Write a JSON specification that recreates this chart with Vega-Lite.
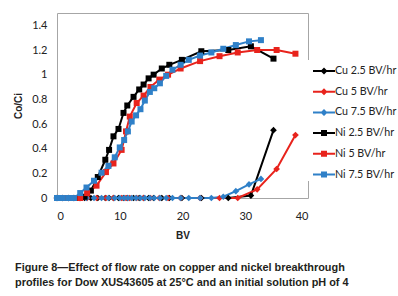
{
  "$schema": "https://vega.github.io/schema/vega-lite/v6.json",
  "width": 251,
  "height": 185,
  "autosize": {"type": "none"},
  "padding": {"left": 57, "top": 13, "right": 90, "bottom": 98},
  "background": "white",
  "title": {
    "text": ["Figure 8\u2014Effect of flow rate on copper and nickel breakthrough", "profiles for Dow XUS43605 at 25\u00b0C and an initial solution pH of 4"],
    "orient": "bottom", "anchor": "start", "frame": "group", "dx": -42, "offset": 22,
    "font": "Liberation Sans", "fontSize": 10.9, "fontWeight": "bold", "color": "#231f20",
    "lineHeight": 15, "baseline": "top"
  },
  "config": {
    "view": {"stroke": "#a6a6a6", "strokeWidth": 1},
    "axis": {"domain": false, "grid": false, "ticks": false, "labelFont": "Lato", "labelFontSize": 11, "labelColor": "#222222", "titleFont": "Liberation Sans", "titleFontSize": 10, "titleFontWeight": "bold", "titleColor": "#222222"}
  },
  "datasets": {
    "pts": [
      {"s": "Cu 2.5 BV/hr", "bv": 0, "v": 0}, {"s": "Cu 2.5 BV/hr", "bv": 0.9, "v": 0}, {"s": "Cu 2.5 BV/hr", "bv": 1.8, "v": 0}, {"s": "Cu 2.5 BV/hr", "bv": 2.7, "v": 0}, {"s": "Cu 2.5 BV/hr", "bv": 3.6, "v": 0}, {"s": "Cu 2.5 BV/hr", "bv": 4.4, "v": 0}, {"s": "Cu 2.5 BV/hr", "bv": 5.4, "v": 0}, {"s": "Cu 2.5 BV/hr", "bv": 6.5, "v": 0}, {"s": "Cu 2.5 BV/hr", "bv": 7.7, "v": 0}, {"s": "Cu 2.5 BV/hr", "bv": 8.3, "v": 0}, {"s": "Cu 2.5 BV/hr", "bv": 9.0, "v": 0}, {"s": "Cu 2.5 BV/hr", "bv": 9.8, "v": 0}, {"s": "Cu 2.5 BV/hr", "bv": 10.6, "v": 0}, {"s": "Cu 2.5 BV/hr", "bv": 11.2, "v": 0}, {"s": "Cu 2.5 BV/hr", "bv": 12.2, "v": 0}, {"s": "Cu 2.5 BV/hr", "bv": 13.1, "v": 0}, {"s": "Cu 2.5 BV/hr", "bv": 13.8, "v": 0}, {"s": "Cu 2.5 BV/hr", "bv": 14.6, "v": 0}, {"s": "Cu 2.5 BV/hr", "bv": 15.4, "v": 0}, {"s": "Cu 2.5 BV/hr", "bv": 16.7, "v": 0}, {"s": "Cu 2.5 BV/hr", "bv": 17.9, "v": 0}, {"s": "Cu 2.5 BV/hr", "bv": 19.9, "v": 0}, {"s": "Cu 2.5 BV/hr", "bv": 23.0, "v": 0}, {"s": "Cu 2.5 BV/hr", "bv": 27.3, "v": 0}, {"s": "Cu 2.5 BV/hr", "bv": 30.9, "v": 0.02}, {"s": "Cu 2.5 BV/hr", "bv": 34.5, "v": 0.55},
      {"s": "Cu 5 BV/hr", "bv": 0, "v": 0}, {"s": "Cu 5 BV/hr", "bv": 0.9, "v": 0}, {"s": "Cu 5 BV/hr", "bv": 1.8, "v": 0}, {"s": "Cu 5 BV/hr", "bv": 2.7, "v": 0}, {"s": "Cu 5 BV/hr", "bv": 3.7, "v": 0}, {"s": "Cu 5 BV/hr", "bv": 4.8, "v": 0}, {"s": "Cu 5 BV/hr", "bv": 6.3, "v": 0}, {"s": "Cu 5 BV/hr", "bv": 7.8, "v": 0}, {"s": "Cu 5 BV/hr", "bv": 9.0, "v": 0}, {"s": "Cu 5 BV/hr", "bv": 10.3, "v": 0}, {"s": "Cu 5 BV/hr", "bv": 11.0, "v": 0}, {"s": "Cu 5 BV/hr", "bv": 11.6, "v": 0}, {"s": "Cu 5 BV/hr", "bv": 12.7, "v": 0}, {"s": "Cu 5 BV/hr", "bv": 13.8, "v": 0}, {"s": "Cu 5 BV/hr", "bv": 14.9, "v": 0}, {"s": "Cu 5 BV/hr", "bv": 16.3, "v": 0}, {"s": "Cu 5 BV/hr", "bv": 17.7, "v": 0}, {"s": "Cu 5 BV/hr", "bv": 19.7, "v": 0}, {"s": "Cu 5 BV/hr", "bv": 22.8, "v": 0}, {"s": "Cu 5 BV/hr", "bv": 25.9, "v": 0}, {"s": "Cu 5 BV/hr", "bv": 28.8, "v": 0}, {"s": "Cu 5 BV/hr", "bv": 31.9, "v": 0.07}, {"s": "Cu 5 BV/hr", "bv": 35.0, "v": 0.235}, {"s": "Cu 5 BV/hr", "bv": 38.0, "v": 0.51},
      {"s": "Cu 7.5 BV/hr", "bv": 0, "v": 0}, {"s": "Cu 7.5 BV/hr", "bv": 0.9, "v": 0}, {"s": "Cu 7.5 BV/hr", "bv": 1.8, "v": 0}, {"s": "Cu 7.5 BV/hr", "bv": 2.7, "v": 0}, {"s": "Cu 7.5 BV/hr", "bv": 3.7, "v": 0}, {"s": "Cu 7.5 BV/hr", "bv": 4.7, "v": 0}, {"s": "Cu 7.5 BV/hr", "bv": 5.9, "v": 0}, {"s": "Cu 7.5 BV/hr", "bv": 7.1, "v": 0}, {"s": "Cu 7.5 BV/hr", "bv": 8.2, "v": 0}, {"s": "Cu 7.5 BV/hr", "bv": 9.2, "v": 0}, {"s": "Cu 7.5 BV/hr", "bv": 10.0, "v": 0}, {"s": "Cu 7.5 BV/hr", "bv": 10.7, "v": 0}, {"s": "Cu 7.5 BV/hr", "bv": 11.3, "v": 0}, {"s": "Cu 7.5 BV/hr", "bv": 11.9, "v": 0}, {"s": "Cu 7.5 BV/hr", "bv": 12.6, "v": 0}, {"s": "Cu 7.5 BV/hr", "bv": 13.3, "v": 0}, {"s": "Cu 7.5 BV/hr", "bv": 14.0, "v": 0}, {"s": "Cu 7.5 BV/hr", "bv": 14.8, "v": 0}, {"s": "Cu 7.5 BV/hr", "bv": 15.5, "v": 0}, {"s": "Cu 7.5 BV/hr", "bv": 16.4, "v": 0}, {"s": "Cu 7.5 BV/hr", "bv": 17.4, "v": 0}, {"s": "Cu 7.5 BV/hr", "bv": 18.4, "v": 0}, {"s": "Cu 7.5 BV/hr", "bv": 19.7, "v": 0}, {"s": "Cu 7.5 BV/hr", "bv": 21.0, "v": 0}, {"s": "Cu 7.5 BV/hr", "bv": 22.8, "v": 0}, {"s": "Cu 7.5 BV/hr", "bv": 24.6, "v": 0}, {"s": "Cu 7.5 BV/hr", "bv": 26.5, "v": 0.01}, {"s": "Cu 7.5 BV/hr", "bv": 28.5, "v": 0.055}, {"s": "Cu 7.5 BV/hr", "bv": 30.6, "v": 0.11}, {"s": "Cu 7.5 BV/hr", "bv": 32.5, "v": 0.155},
      {"s": "Ni 2.5 BV/hr", "bv": 0, "v": 0}, {"s": "Ni 2.5 BV/hr", "bv": 0.9, "v": 0}, {"s": "Ni 2.5 BV/hr", "bv": 1.8, "v": 0}, {"s": "Ni 2.5 BV/hr", "bv": 2.7, "v": 0}, {"s": "Ni 2.5 BV/hr", "bv": 3.6, "v": 0}, {"s": "Ni 2.5 BV/hr", "bv": 4.4, "v": 0.01}, {"s": "Ni 2.5 BV/hr", "bv": 5.4, "v": 0.06}, {"s": "Ni 2.5 BV/hr", "bv": 6.5, "v": 0.17}, {"s": "Ni 2.5 BV/hr", "bv": 7.7, "v": 0.31}, {"s": "Ni 2.5 BV/hr", "bv": 8.3, "v": 0.39}, {"s": "Ni 2.5 BV/hr", "bv": 9.0, "v": 0.5}, {"s": "Ni 2.5 BV/hr", "bv": 9.8, "v": 0.56}, {"s": "Ni 2.5 BV/hr", "bv": 10.6, "v": 0.69}, {"s": "Ni 2.5 BV/hr", "bv": 11.2, "v": 0.75}, {"s": "Ni 2.5 BV/hr", "bv": 12.2, "v": 0.82}, {"s": "Ni 2.5 BV/hr", "bv": 13.1, "v": 0.88}, {"s": "Ni 2.5 BV/hr", "bv": 13.8, "v": 0.92}, {"s": "Ni 2.5 BV/hr", "bv": 14.6, "v": 0.97}, {"s": "Ni 2.5 BV/hr", "bv": 15.4, "v": 1.0}, {"s": "Ni 2.5 BV/hr", "bv": 16.7, "v": 1.05}, {"s": "Ni 2.5 BV/hr", "bv": 17.9, "v": 1.08}, {"s": "Ni 2.5 BV/hr", "bv": 19.9, "v": 1.12}, {"s": "Ni 2.5 BV/hr", "bv": 23.0, "v": 1.19}, {"s": "Ni 2.5 BV/hr", "bv": 27.3, "v": 1.2}, {"s": "Ni 2.5 BV/hr", "bv": 30.9, "v": 1.23}, {"s": "Ni 2.5 BV/hr", "bv": 34.5, "v": 1.13},
      {"s": "Ni 5 BV/hr", "bv": 0, "v": 0}, {"s": "Ni 5 BV/hr", "bv": 0.9, "v": 0}, {"s": "Ni 5 BV/hr", "bv": 1.8, "v": 0}, {"s": "Ni 5 BV/hr", "bv": 2.7, "v": 0}, {"s": "Ni 5 BV/hr", "bv": 3.7, "v": 0}, {"s": "Ni 5 BV/hr", "bv": 4.8, "v": 0.04}, {"s": "Ni 5 BV/hr", "bv": 6.3, "v": 0.1}, {"s": "Ni 5 BV/hr", "bv": 7.8, "v": 0.21}, {"s": "Ni 5 BV/hr", "bv": 9.0, "v": 0.28}, {"s": "Ni 5 BV/hr", "bv": 10.3, "v": 0.39}, {"s": "Ni 5 BV/hr", "bv": 11.0, "v": 0.54}, {"s": "Ni 5 BV/hr", "bv": 11.6, "v": 0.66}, {"s": "Ni 5 BV/hr", "bv": 12.7, "v": 0.77}, {"s": "Ni 5 BV/hr", "bv": 13.8, "v": 0.83}, {"s": "Ni 5 BV/hr", "bv": 14.9, "v": 0.9}, {"s": "Ni 5 BV/hr", "bv": 16.3, "v": 0.96}, {"s": "Ni 5 BV/hr", "bv": 17.7, "v": 1.0}, {"s": "Ni 5 BV/hr", "bv": 19.7, "v": 1.05}, {"s": "Ni 5 BV/hr", "bv": 22.8, "v": 1.11}, {"s": "Ni 5 BV/hr", "bv": 25.9, "v": 1.15}, {"s": "Ni 5 BV/hr", "bv": 28.8, "v": 1.18}, {"s": "Ni 5 BV/hr", "bv": 31.9, "v": 1.2}, {"s": "Ni 5 BV/hr", "bv": 35.0, "v": 1.2}, {"s": "Ni 5 BV/hr", "bv": 38.0, "v": 1.17},
      {"s": "Ni 7.5 BV/hr", "bv": 0, "v": 0}, {"s": "Ni 7.5 BV/hr", "bv": 0.9, "v": 0}, {"s": "Ni 7.5 BV/hr", "bv": 1.8, "v": 0}, {"s": "Ni 7.5 BV/hr", "bv": 2.7, "v": 0}, {"s": "Ni 7.5 BV/hr", "bv": 3.7, "v": 0.04}, {"s": "Ni 7.5 BV/hr", "bv": 4.7, "v": 0.085}, {"s": "Ni 7.5 BV/hr", "bv": 5.9, "v": 0.14}, {"s": "Ni 7.5 BV/hr", "bv": 7.1, "v": 0.205}, {"s": "Ni 7.5 BV/hr", "bv": 8.2, "v": 0.26}, {"s": "Ni 7.5 BV/hr", "bv": 9.2, "v": 0.33}, {"s": "Ni 7.5 BV/hr", "bv": 10.0, "v": 0.41}, {"s": "Ni 7.5 BV/hr", "bv": 10.7, "v": 0.47}, {"s": "Ni 7.5 BV/hr", "bv": 11.3, "v": 0.54}, {"s": "Ni 7.5 BV/hr", "bv": 11.9, "v": 0.62}, {"s": "Ni 7.5 BV/hr", "bv": 12.6, "v": 0.67}, {"s": "Ni 7.5 BV/hr", "bv": 13.3, "v": 0.72}, {"s": "Ni 7.5 BV/hr", "bv": 14.0, "v": 0.79}, {"s": "Ni 7.5 BV/hr", "bv": 14.8, "v": 0.86}, {"s": "Ni 7.5 BV/hr", "bv": 15.5, "v": 0.89}, {"s": "Ni 7.5 BV/hr", "bv": 16.4, "v": 0.93}, {"s": "Ni 7.5 BV/hr", "bv": 17.4, "v": 0.99}, {"s": "Ni 7.5 BV/hr", "bv": 18.4, "v": 1.04}, {"s": "Ni 7.5 BV/hr", "bv": 19.7, "v": 1.08}, {"s": "Ni 7.5 BV/hr", "bv": 21.0, "v": 1.12}, {"s": "Ni 7.5 BV/hr", "bv": 22.8, "v": 1.155}, {"s": "Ni 7.5 BV/hr", "bv": 24.6, "v": 1.18}, {"s": "Ni 7.5 BV/hr", "bv": 26.5, "v": 1.21}, {"s": "Ni 7.5 BV/hr", "bv": 28.5, "v": 1.24}, {"s": "Ni 7.5 BV/hr", "bv": 30.6, "v": 1.27}, {"s": "Ni 7.5 BV/hr", "bv": 32.5, "v": 1.28}
    ]
  },
  "data": {"name": "pts"},
  "encoding": {
    "x": {"field": "bv", "type": "quantitative", "title": "BV", "scale": {"domain": [0, 40], "nice": false, "zero": false},
      "axis": {"values": [0, 10, 20, 30, 40], "labelPadding": 12, "titlePadding": 9}},
    "y": {"field": "v", "type": "quantitative", "title": "Co/Ci", "scale": {"domain": [0, 1.5], "nice": false},
      "axis": {"values": [0, 0.2, 0.4, 0.6, 0.8, 1, 1.2, 1.4], "format": "~g", "labelPadding": 10, "titlePadding": 8}},
    "color": {"field": "s", "type": "nominal",
      "scale": {"domain": ["Cu 2.5 BV/hr", "Cu 5 BV/hr", "Cu 7.5 BV/hr", "Ni 2.5 BV/hr", "Ni 5 BV/hr", "Ni 7.5 BV/hr"], "range": ["#000000", "#e8231c", "#2f80c8", "#000000", "#e8231c", "#2f80c8"]},
      "legend": {
        "title": null, "orient": "none", "legendX": 248, "legendY": 47, "padding": 1, "fillColor": "white",
        "symbolSize": 400, "symbolOffset": 8, "labelOffset": 1, "rowPadding": 5.7, "symbolOpacity": 1,
        "symbolStrokeWidth": 0,
        "labelFont": "Lato", "labelFontSize": 10.7, "labelColor": "#222222"
      }
    }
  },
  "layer": [
    {"transform": [{"filter": "datum.bv < 0"}],
      "mark": {"type": "point", "filled": true},
      "encoding": {
        "shape": {"field": "s", "type": "nominal",
          "scale": {"domain": ["Cu 2.5 BV/hr", "Cu 5 BV/hr", "Cu 7.5 BV/hr", "Ni 2.5 BV/hr", "Ni 5 BV/hr", "Ni 7.5 BV/hr"],
            "range": ["M-1.1,-0.1H1.1V0.1H-1.1Z M0,-0.35L0.35,0L0,0.35L-0.35,0Z", "M-1.1,-0.1H1.1V0.1H-1.1Z M0,-0.35L0.35,0L0,0.35L-0.35,0Z", "M-1.1,-0.1H1.1V0.1H-1.1Z M0,-0.35L0.35,0L0,0.35L-0.35,0Z", "M-1.1,-0.1H1.1V0.1H-1.1Z M-0.3,-0.3H0.3V0.3H-0.3Z", "M-1.1,-0.1H1.1V0.1H-1.1Z M-0.3,-0.3H0.3V0.3H-0.3Z", "M-1.1,-0.1H1.1V0.1H-1.1Z M-0.3,-0.3H0.3V0.3H-0.3Z"]},
          "legend": {"title": null, "orient": "none", "legendX": 248, "legendY": 47, "padding": 1, "fillColor": "white", "symbolSize": 400, "symbolOffset": 8, "labelOffset": 1, "rowPadding": 5.7, "symbolOpacity": 1, "symbolStrokeWidth": 0, "labelFont": "Lato", "labelFontSize": 10.7, "labelColor": "#222222"}}
      }
    },
    {"mark": {"type": "line", "strokeWidth": 2}},
    {"transform": [{"filter": "indexof(datum.s, 'Cu') == 0"}],
      "mark": {"type": "point", "filled": true, "opacity": 1, "size": 45, "shape": "diamond"}},
    {"transform": [{"filter": "indexof(datum.s, 'Ni') == 0"}],
      "mark": {"type": "point", "filled": true, "opacity": 1, "size": 36, "shape": "square"}}
  ]
}
